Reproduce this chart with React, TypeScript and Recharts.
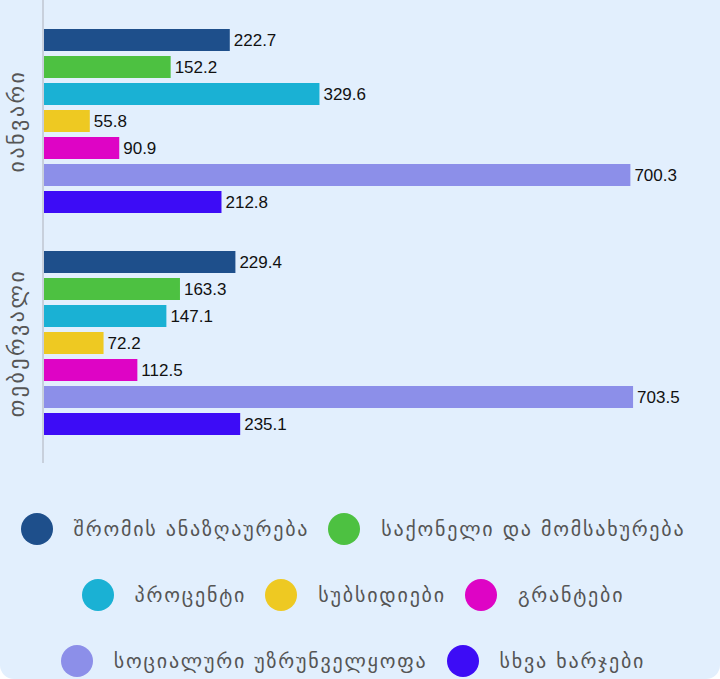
import React from 'react';
import { BarChart, Bar, XAxis, YAxis, LabelList } from 'recharts';

const months = ['იანვარი', 'თებერვალი'];

const laborPay = [222.7, 229.4];
const goodsServices = [152.2, 163.3];
const interest = [329.6, 147.1];
const subsidies = [55.8, 72.2];
const grants = [90.9, 112.5];
const socialSecurity = [700.3, 703.5];
const otherExpenses = [212.8, 235.1];

const SERIES = [
  { key: 'labor', name: 'შრომის ანაზღაურება', color: '#1e4f8b', values: laborPay },
  { key: 'goods', name: 'საქონელი და მომსახურება', color: '#4dc141', values: goodsServices },
  { key: 'interest', name: 'პროცენტი', color: '#1ab1d4', values: interest },
  { key: 'subsidies', name: 'სუბსიდიები', color: '#eec922', values: subsidies },
  { key: 'grants', name: 'გრანტები', color: '#de04c5', values: grants },
  { key: 'social', name: 'სოციალური უზრუნველყოფა', color: '#8c8fe9', values: socialSecurity },
  { key: 'other', name: 'სხვა ხარჯები', color: '#3d0cf6', values: otherExpenses },
];

const chartData = months.map((month, i) => {
  const row: Record<string, string | number> = { month };
  SERIES.forEach((s) => {
    row[s.key] = s.values[i];
  });
  return row;
});

const FONT = "Arial, 'Liberation Sans', 'DejaVu Sans', sans-serif";
const GEO_FONT = "'DejaVu Sans', sans-serif";

const MonthTick = (props: any) => {
  const { y, payload } = props;
  const x = 16;
  return (
    <text
      x={x}
      y={y}
      transform={`rotate(-90, ${x}, ${y})`}
      textAnchor="middle"
      dominantBaseline="central"
      fill="#555"
      fontSize={22}
      letterSpacing={2.5}
      fontFamily={GEO_FONT}
    >
      {payload.value}
    </text>
  );
};

const App: React.FC = () => {
  return (
    <div
      style={{
        position: 'absolute',
        left: 0,
        top: 0,
        width: 720,
        height: 679,
        background: '#e2effd',
        borderBottomLeftRadius: 14,
        borderBottomRightRadius: 14,
        overflow: 'hidden',
      }}
    >
      <BarChart
        width={720}
        height={463}
        data={chartData}
        layout="vertical"
        margin={{ top: 0, right: 6, bottom: 0, left: 0 }}
        barSize={22}
        barGap={5}
      >
        <XAxis type="number" domain={[0, 800]} hide />
        <YAxis
          type="category"
          dataKey="month"
          width={43}
          padding={{ top: 10, bottom: 9 }}
          axisLine={{ stroke: '#c8d0dc', strokeWidth: 2 }}
          tickLine={false}
          tick={<MonthTick />}
        />
        {SERIES.map((s) => (
          <Bar key={s.key} dataKey={s.key} name={s.name} fill={s.color} isAnimationActive={false}>
            <LabelList
              dataKey={s.key}
              position="right"
              offset={4}
              fill="#111"
              fontSize={17}
              fontFamily={FONT}
            />
          </Bar>
        ))}
      </BarChart>
      <div
        style={{
          position: 'absolute',
          top: 513,
          left: 0,
          width: 706,
          display: 'flex',
          flexWrap: 'wrap',
          justifyContent: 'center',
          rowGap: 34,
          columnGap: 19,
        }}
      >
        {SERIES.map((s) => (
          <div key={s.key} style={{ display: 'flex', alignItems: 'center', height: 32 }}>
            <span
              style={{
                width: 32,
                height: 32,
                borderRadius: '50%',
                background: s.color,
                marginRight: 21,
                display: 'inline-block',
              }}
            />
            <span
              style={{ fontSize: 20, letterSpacing: 1.8, color: '#555', fontFamily: GEO_FONT }}
            >
              {s.name}
            </span>
          </div>
        ))}
      </div>
    </div>
  );
};

export default App;
